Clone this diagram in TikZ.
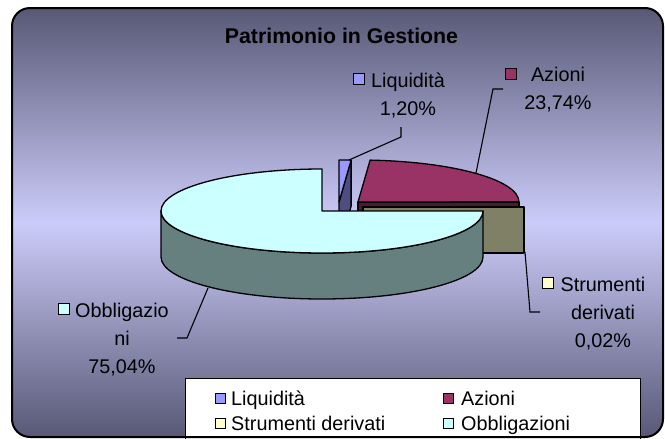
\documentclass[tikz,border=0pt]{standalone}
\usepackage{fontspec}
\setmainfont{Liberation Sans}
\definecolor{bgdark}{RGB}{88,88,118}
\definecolor{bglight}{RGB}{204,204,250}
\definecolor{liqtop}{RGB}{153,153,255}
\definecolor{liqside}{RGB}{77,77,128}
\definecolor{azitop}{RGB}{153,51,102}
\definecolor{aziside}{RGB}{77,26,51}
\definecolor{strtop}{RGB}{255,255,204}
\definecolor{strside}{RGB}{128,128,102}
\definecolor{obbtop}{RGB}{204,255,255}
\definecolor{obbside}{RGB}{102,128,128}
\begin{document}
\begin{tikzpicture}[x=1pt,y=-1pt,
    slice/.style = {draw=black,line width=1.3pt,line join=round},
    leader/.style = {draw=black,line width=1.1pt},
    swatch/.style = {draw=black,line width=0.9pt,minimum size=10pt,inner sep=0pt},
    lbl/.style = {align=center,inner sep=0pt,font=\fontsize{19.8}{28}\selectfont},
    leg/.style = {anchor=base west,inner sep=0pt,font=\fontsize{19.8}{23}\selectfont}]
    \useasboundingbox (0,0) rectangle (665,439);

    \begin{scope}
        \clip[rounded corners=18pt] (12,8) rectangle (663,437);
        \shade[top color=bgdark,bottom color=bglight] (12,8) rectangle (663,223);
        \shade[top color=bglight,bottom color=bgdark] (12,222) rectangle (663,437);
    \end{scope}

    \node[font=\fontsize{21.3}{24}\selectfont\bfseries] (title) at (341.5,36) {Patrimonio in Gestione};

    \coordinate (ctr) at (322,211);
    \coordinate (liq) at (339,202);
    \coordinate (azi) at (358,202);
    \coordinate (str) at (363,207);

    \filldraw[slice,fill=liqside] (liq) -- ++(12.13,-41.88) -- ++(0,46) -- ++(-12.13,41.88) -- cycle;
    \filldraw[slice,fill=liqtop] (liq) -- ++(0,-42)
        arc[start angle=-90,end angle=-85.68,x radius=161,y radius=42] -- cycle;

    \filldraw[slice,fill=aziside] (azi) -- ++(161,0) -- ++(0,46) -- ++(-161,0) -- cycle;
    \filldraw[slice,fill=azitop] (azi) -- ++(-85.68:161 and 42)
        arc[start angle=-85.68,end angle=-0.24,x radius=161,y radius=42] -- cycle;

    \filldraw[slice,fill=strside] (str) rectangle ++(161,46);

    \filldraw[slice,fill=obbside] (483,211)
        arc[start angle=0,end angle=180,x radius=161,y radius=42] -- ++(0,46)
        arc[start angle=180,end angle=0,x radius=161,y radius=42] -- cycle;
    \filldraw[slice,fill=obbtop] (ctr) -- ++(161,0)
        arc[start angle=0,end angle=270,x radius=161,y radius=42] -- cycle;

    \node[lbl] (liqlbl) at (408,95.5) {Liquidità\\1,20\%};
    \node[swatch,minimum size=11pt,fill=liqtop] (liqkey) at (359,78.5) {};
    \node[lbl] (azilbl) at (558,90) {Azioni\\23,74\%};
    \node[swatch,minimum size=11pt,fill=azitop] (azikey) at (511,73.5) {};
    \node[lbl] (strlbl) at (603,313.5) {Strumenti\\derivati\\0,02\%};
    \node[swatch,minimum size=11pt,fill=strtop] (strkey) at (547.5,282.5) {};
    \node[lbl] (obblbl) at (122,339.5) {Obbligazio\\ni\\75,04\%};
    \node[swatch,minimum size=11pt,fill=obbtop] (obbkey) at (64,309) {};

    \coordinate (liqtip) at (349,160);
    \coordinate (liqbend) at (401,137);
    \coordinate (liqend) at (401,127);
    \coordinate (azitip) at (476,173);
    \coordinate (azibend) at (493,89);
    \coordinate (aziend) at (503,89);
    \coordinate (strtip) at (525,252);
    \coordinate (strbend) at (530,312);
    \coordinate (strend) at (540,312);
    \coordinate (obbtip) at (208,288);
    \coordinate (obbbend) at (187,338);
    \coordinate (obbend) at (177,338);

    \draw[leader] (liqtip) -- (liqbend) -- (liqend);
    \draw[leader] (azitip) -- (azibend) -- (aziend);
    \draw[leader] (strtip) -- (strbend) -- (strend);
    \draw[leader] (obbtip) -- (obbbend) -- (obbend);

    \draw[fill=white,line width=1pt] (185,378) rectangle (640,441);
    \node[swatch,fill=liqtop] (legliqkey) at (220,398) {};
    \node[leg] (legliq) at (231,405) {Liquidità};
    \node[swatch,fill=azitop] (legazikey) at (448,398) {};
    \node[leg] (legazi) at (461,405) {Azioni};
    \node[swatch,fill=strtop] (legstrkey) at (220,423) {};
    \node[leg] (legstr) at (231,430) {Strumenti derivati};
    \node[swatch,fill=obbtop] (legobbkey) at (448,423) {};
    \node[leg] (legobb) at (461,430) {Obbligazioni};

    \draw[line width=2pt,rounded corners=18pt] (12,8) rectangle (663,437);
\end{tikzpicture}
\end{document}
